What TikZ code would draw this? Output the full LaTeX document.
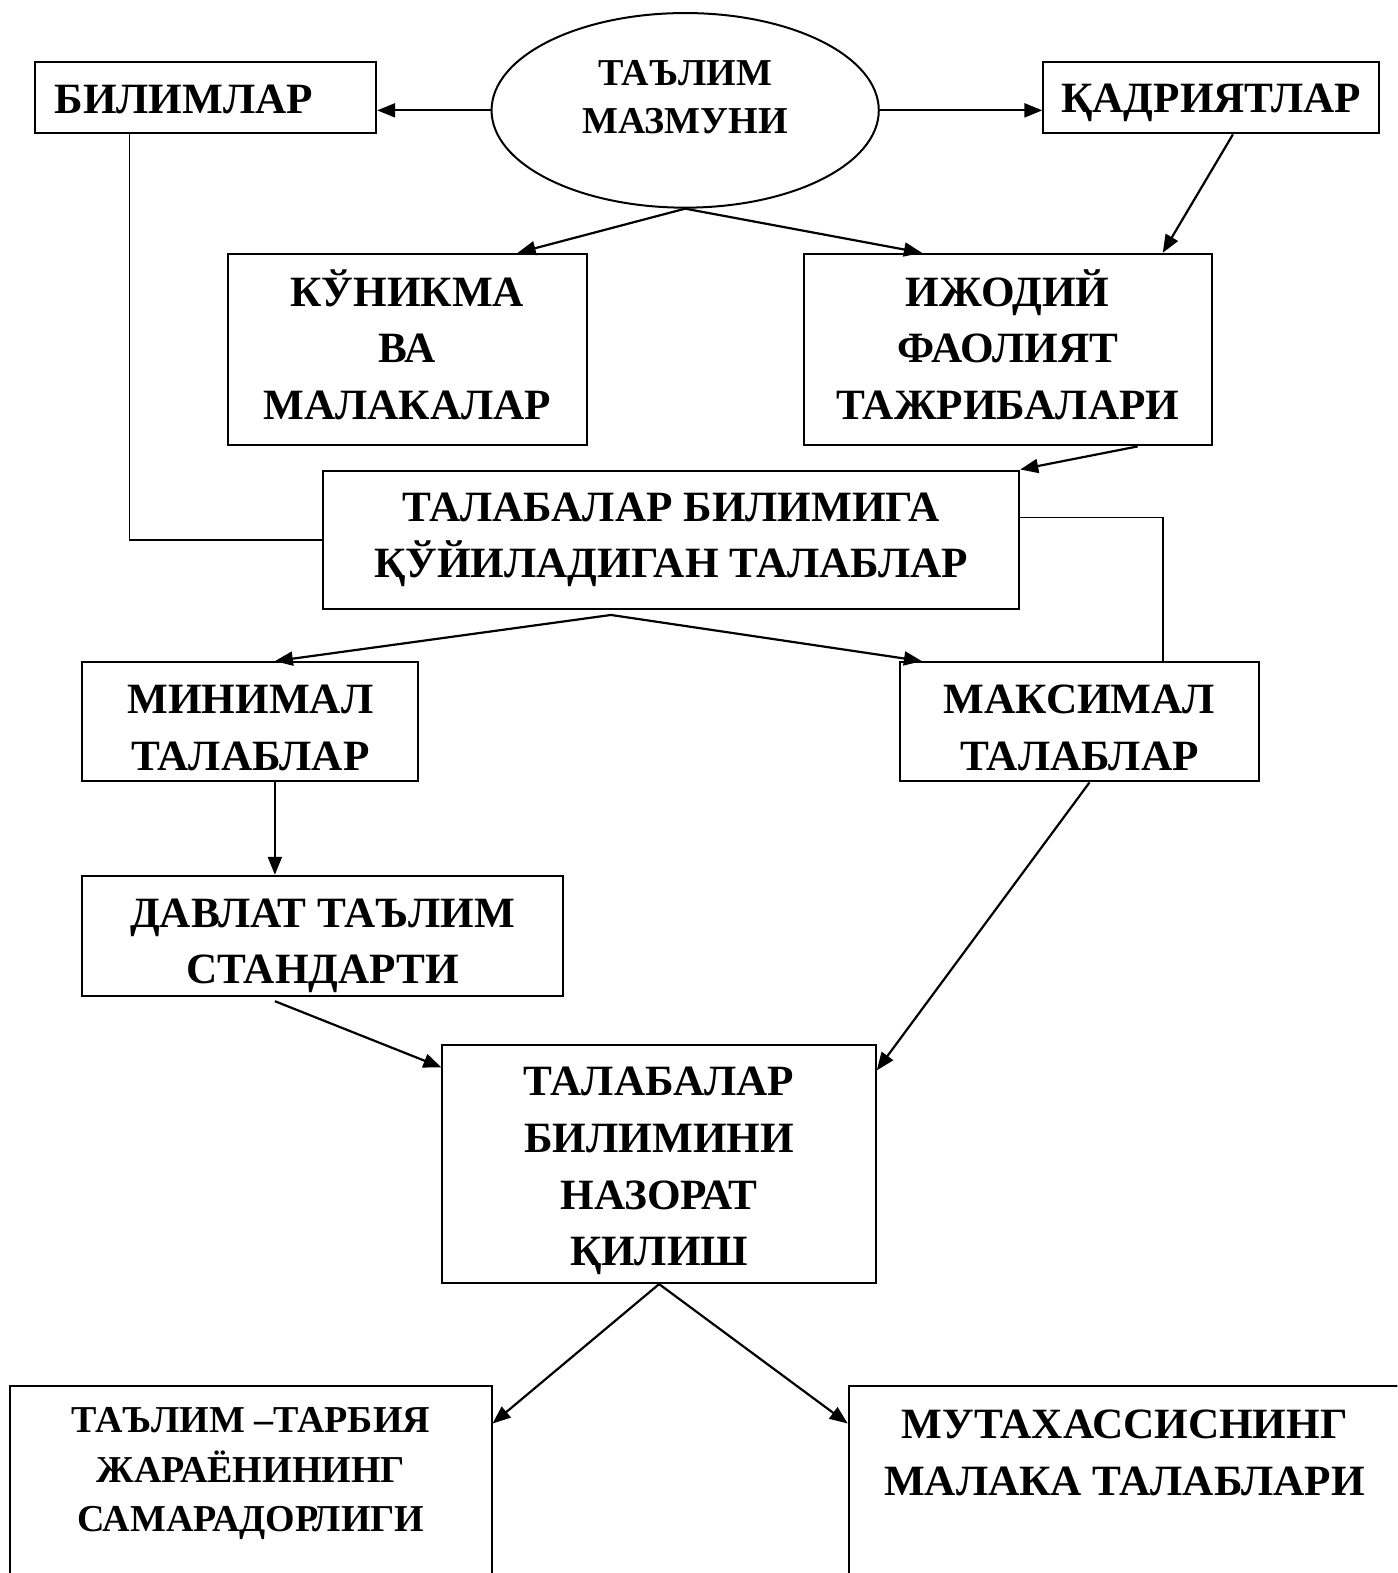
\documentclass[tikz,border=0pt]{standalone}
\usepackage{fontspec}
\setmainfont{Liberation Serif}
\usetikzlibrary{arrows.meta,shapes.geometric}
\def\pxu{0.5015pt}
\tikzset{
  box/.style={draw, line width=1pt, rectangle, inner sep=0pt},
  txt/.style={inner sep=0pt, align=center, font=\fontsize{21.6}{28.3}\selectfont\bfseries},
  smalltxt/.style={inner sep=0pt, align=center, font=\fontsize{19}{24.6}\selectfont\bfseries},
  arr/.style={line width=1.1pt, -{Triangle[length=9pt,width=7pt]}},
  ln/.style={line width=0.8pt},
}
\begin{document}
\begin{tikzpicture}[x=0.5015pt,y=-0.5015pt]
\clip (0,0) rectangle (1393,1568);
\fill[white] (0,0) rectangle (1393,1568);
% ellipse
\node[draw, line width=1pt, ellipse, minimum width=386*\pxu, minimum height=194*\pxu, inner sep=0pt] (tm) at (683,110) {};
\node[inner sep=0pt, align=center, font=\fontsize{19}{24}\selectfont\bfseries] (tmt) at (683,97) {ТАЪЛИМ\\МАЗМУНИ};
% boxes
\node[box, minimum width=340*\pxu, minimum height=71*\pxu] (bil) at (205,97.5) {};
\node[box, minimum width=335*\pxu, minimum height=71*\pxu] (kad) at (1207.5,97.5) {};
\node[box, minimum width=358*\pxu, minimum height=191*\pxu] (kun) at (406,348.5) {};
\node[box, minimum width=407*\pxu, minimum height=191*\pxu] (ijo) at (1004.5,348.5) {};
\node[box, minimum width=694*\pxu, minimum height=138*\pxu] (tal) at (669,538) {};
\node[box, minimum width=335*\pxu, minimum height=119*\pxu] (min) at (249.5,719.5) {};
\node[box, minimum width=358*\pxu, minimum height=119*\pxu] (mak) at (1076,719.5) {};
\node[box, minimum width=479*\pxu, minimum height=120*\pxu] (dav) at (321.5,933) {};
\node[box, minimum width=432*\pxu, minimum height=237*\pxu] (naz) at (657,1160.5) {};
\node[box, minimum width=480*\pxu, minimum height=318*\pxu] (bl) at (250,1541) {};
\node[box, minimum width=614*\pxu, minimum height=318*\pxu] (br) at (1153,1541) {};
% texts
\node[txt, anchor=west] (bilt) at ([shift={(20,2)}]bil.west) {БИЛИМЛАР};
\node[txt] (kadt) at ([shift={(0,5)}]kad.center) {ҚАДРИЯТЛАР};
\node[txt] (kunt) at ([shift={(0,-5)}]kun.center) {КЎНИКМА\\ВА\\МАЛАКАЛАР};
\node[txt] (ijot) at ([shift={(0,-5)}]ijo.center) {ИЖОДИЙ\\ФАОЛИЯТ\\ТАЖРИБАЛАРИ};
\node[txt] (talt) at (tal.center) {ТАЛАБАЛАР БИЛИМИГА\\ҚЎЙИЛАДИГАН ТАЛАБЛАР};
\node[txt] (mint) at ([shift={(0,6)}]min.center) {МИНИМАЛ\\ТАЛАБЛАР};
\node[txt] (makt) at ([shift={(0,6)}]mak.center) {МАКСИМАЛ\\ТАЛАБЛАР};
\node[txt] (davt) at ([shift={(0,10)}]dav.center) {ДАВЛАТ ТАЪЛИМ\\СТАНДАРТИ};
\node[txt] (nazt) at ([shift={(0,7)}]naz.center) {ТАЛАБАЛАР\\БИЛИМИНИ\\НАЗОРАТ\\ҚИЛИШ};
\node[smalltxt] (blt) at (250,1469) {ТАЪЛИМ –ТАРБИЯ\\ЖАРАЁНИНИНГ\\САМАРАДОРЛИГИ};
\node[txt] (brt) at (1121,1448) {МУТАХАССИСНИНГ\\МАЛАКА ТАЛАБЛАРИ};
% connectors
\draw[arr] (tm.west) -- (tm.west -| bil.east);
\draw[arr] (tm.east) -- (tm.east -| kad.west);
\draw[arr] (tm.south) -- ([shift={(-70,0)}]kun.north east);
\draw[arr] (tm.south) -- ([shift={(119,0)}]ijo.north west);
\draw[arr] ([shift={(190,0)}]kad.south west) -- ([shift={(359,0)}]ijo.north west);
\draw[arr] ([shift={(334,0)}]ijo.south west) -- (tal.north east);
\draw[ln] ([shift={(95,0)}]bil.south west) |- (tal.west);
\draw[ln] ([shift={(0,48)}]tal.north east) -| ([shift={(263,0)}]mak.north west);
\coordinate (tb) at ([shift={(288,5)}]tal.south west);
\draw[arr] (tb) -- ([shift={(193,0)}]min.north west);
\draw[arr] (tb) -- ([shift={(23,0)}]mak.north west);
\draw[arr] ([shift={(193,0)}]min.south west) -- ([shift={(193,0)}]dav.north west);
\draw[arr] ([shift={(190,0)}]mak.south west) -- ([shift={(0,26)}]naz.north east);
\draw[arr] ([shift={(193,4)}]dav.south west) -- ([shift={(0,23)}]naz.north west);
\draw[arr] (naz.south) -- ([shift={(0,38)}]bl.north east);
\draw[arr] (naz.south) -- ([shift={(0,38)}]br.north west);
\end{tikzpicture}
\end{document}
